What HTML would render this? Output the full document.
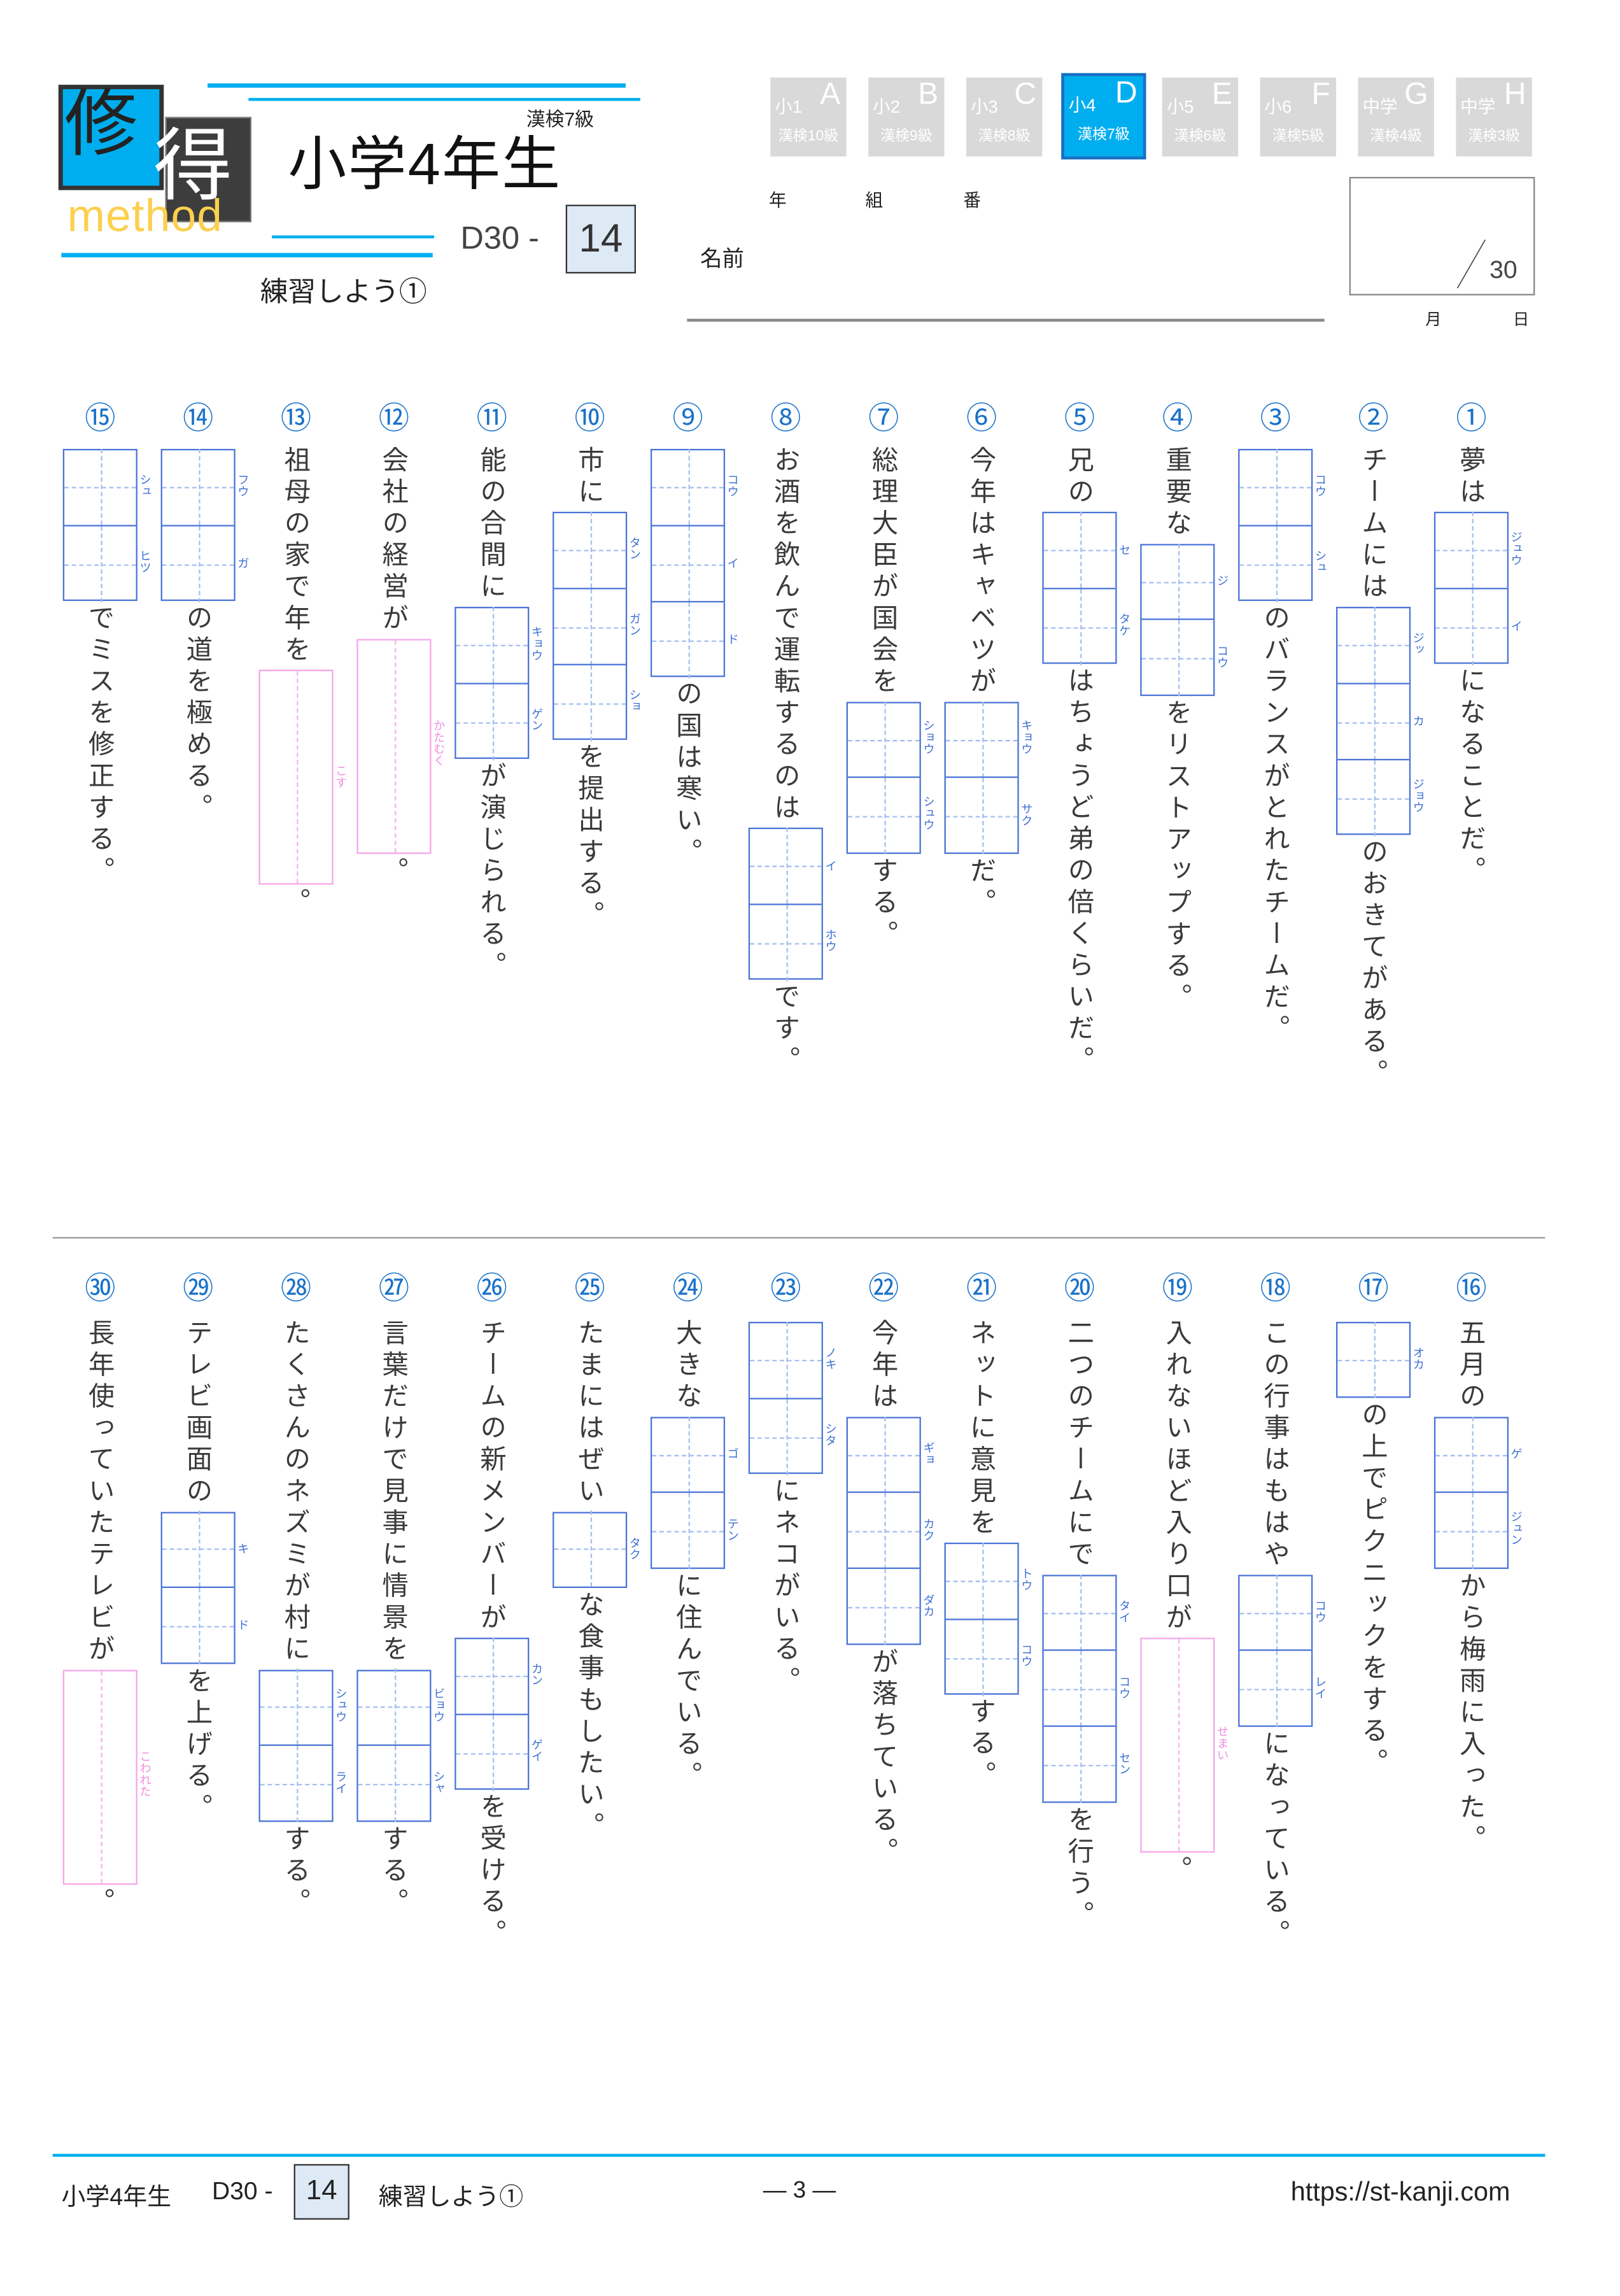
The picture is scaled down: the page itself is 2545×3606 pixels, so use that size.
<!DOCTYPE html>
<html><head><meta charset="utf-8">
<style>
html,body{margin:0;padding:0;background:#fff;}
body{width:2545px;height:3600px;overflow:hidden;position:relative;font-family:"Liberation Sans","Noto Sans CJK JP",sans-serif;}
#p{position:absolute;left:0;top:0;width:1110px;height:1570px;transform:scale(2.2965);transform-origin:0 0;color:#333;}
.a{position:absolute;}
.vt{position:absolute;writing-mode:vertical-rl;font-size:18px;letter-spacing:3.6px;line-height:22px;width:22px;color:#3a3a3a;white-space:nowrap;}
.num{position:absolute;font-size:21px;color:#1a72c9;width:30px;text-align:center;line-height:22px;font-family:"Noto Sans CJK JP",sans-serif;}
.box{position:absolute;border:1.3px solid #4a74d6;box-sizing:border-box;width:51px;}
.cell{position:absolute;left:0;right:0;height:52px;}
.dv{position:absolute;left:50%;top:0;bottom:0;border-left:1px dashed #a6bfee;}
.dh{position:absolute;left:0;right:0;top:50%;border-top:1px dashed #a6bfee;}
.fr{position:absolute;writing-mode:vertical-rl;font-size:8px;line-height:9px;color:#3d6fd3;white-space:nowrap;}
.pink{border-color:#f6a6ea;}
.pink .dv{border-left-color:#f6b3ee;}
.fp{color:#f08de0;}
.tab{position:absolute;width:52px;height:54px;background:#d9d9d9;color:#fff;}
.tab .s{position:absolute;left:3px;top:11px;font-size:12px;}
.tab .L{position:absolute;right:4px;top:0px;font-size:21px;}
.tab .k{position:absolute;left:0;right:0;top:31px;font-size:10px;text-align:center;}
</style></head><body>
<div id="p">
<div class="a" style="left:113px;top:80px;width:59px;height:72px;background:#3d3d3d;border:1.5px solid #777;box-sizing:border-box;"></div>
<div class="a" style="left:40px;top:58px;width:72px;height:72px;background:#00aeef;border:3px solid #333;box-sizing:border-box;"></div>
<div class="a" style="left:44px;top:55px;font-size:50px;line-height:60px;color:#222;">修</div>
<div class="a" style="left:105px;top:82px;font-size:54px;line-height:64px;color:#fff;">得</div>
<div class="a" style="left:46px;top:130px;font-size:31px;line-height:36px;color:#fbd04e;letter-spacing:0.5px;">method</div>
<div class="a" style="left:142px;top:57px;width:286px;height:3px;background:#00aeef;"></div>
<div class="a" style="left:170px;top:67px;width:268px;height:2px;background:#00aeef;"></div>
<div class="a" style="left:186px;top:161px;width:111px;height:2px;background:#00aeef;"></div>
<div class="a" style="left:42px;top:173px;width:254px;height:3px;background:#00aeef;"></div>
<div class="a" style="left:360px;top:71px;font-size:13px;color:#222;">漢検7級</div>
<div class="a" style="left:197px;top:88px;font-size:40px;line-height:50px;color:#111;letter-spacing:1px;">小学4年生</div>
<div class="a" style="left:315px;top:150px;font-size:22px;line-height:26px;color:#444;">D30 -</div>
<div class="a" style="left:387px;top:140px;width:48px;height:47px;background:#dde9f5;border:1px solid #333;box-sizing:border-box;font-size:27px;line-height:44px;text-align:center;color:#333;">14</div>
<div class="a" style="left:178px;top:189px;font-size:19px;line-height:24px;color:#222;">練習しよう①</div>
<div class="a" style="left:526px;top:128px;font-size:12px;color:#222;">年</div>
<div class="a" style="left:592px;top:128px;font-size:12px;color:#222;">組</div>
<div class="a" style="left:659px;top:128px;font-size:12px;color:#222;">番</div>
<div class="a" style="left:479px;top:166px;font-size:15px;color:#222;">名前</div>
<div class="a" style="left:470px;top:218px;width:436px;height:1.5px;background:#888;"></div>
<div class="a" style="left:923px;top:121px;width:127px;height:81px;border:1px solid #888;box-sizing:border-box;"></div>
<svg class="a" style="left:0;top:0" width="1100" height="260"><line x1="997" y1="197" x2="1016" y2="164" stroke="#555" stroke-width="0.8"/></svg>
<div class="a" style="left:1019px;top:175px;font-size:17px;color:#444;">30</div>
<div class="a" style="left:975px;top:210px;font-size:11px;color:#222;">月</div>
<div class="a" style="left:1035px;top:210px;font-size:11px;color:#222;">日</div>
<div class="a" style="left:36px;top:846px;width:1021px;height:1px;background:#999;"></div>
<div class="a" style="left:36px;top:1473px;width:1021px;height:1.5px;background:#00aeef;"></div>
<div class="a" style="left:42px;top:1489px;font-size:16.5px;color:#222;">小学4年生</div>
<div class="a" style="left:145px;top:1489px;font-size:17px;color:#222;">D30 -</div>
<div class="a" style="left:201px;top:1480px;width:38px;height:38px;background:#dde9f5;border:1px solid #333;box-sizing:border-box;font-size:19px;line-height:36px;text-align:center;color:#222;">14</div>
<div class="a" style="left:259px;top:1489px;font-size:16.5px;color:#222;">練習しよう①</div>
<div class="a" style="left:522px;top:1490px;font-size:16px;color:#222;">— 3 —</div>
<div class="a" style="left:883px;top:1489px;font-size:18px;color:#222;">https://st-kanji.com</div>
</div>
<script>
var P=document.getElementById('p');
function mk(cls,st,html){var d=document.createElement('div');d.className=cls;d.setAttribute('style',st);if(html!=null)d.textContent=html;P.appendChild(d);return d;}
var tabs=[['小1','A','漢検10級'],['小2','B','漢検9級'],['小3','C','漢検8級'],['小4','D','漢検7級'],['小5','E','漢検6級'],['小6','F','漢検5級'],['中学','G','漢検4級'],['中学','H','漢検3級']];
tabs.forEach(function(t,i){
  var x=527+i*67;
  var st='left:'+x+'px;top:53px;';
  if(i==3)st='left:726px;top:50px;width:58px;height:59px;background:#00aeef;border:2px solid #1a6fc4;box-sizing:border-box;';
  var d=mk('tab',st);
  var s=document.createElement('span');s.className='s';s.textContent=t[0];d.appendChild(s);
  var L=document.createElement('span');L.className='L';L.textContent=t[1];d.appendChild(L);
  var k=document.createElement('span');k.className='k';k.textContent=t[2];d.appendChild(k);
});
var nums='①②③④⑤⑥⑦⑧⑨⑩⑪⑫⑬⑭⑮⑯⑰⑱⑲⑳㉑㉒㉓㉔㉕㉖㉗㉘㉙㉚';
var Q=[
['夢は',{r:['ジュウ','イ']},'になることだ。'],
['チームには',{r:['ジッ','カ','ジョウ']},'のおきてがある。'],
[{r:['コウ','シュ']},'のバランスがとれたチームだ。'],
['重要な',{r:['ジ','コウ']},'をリストアップする。'],
['兄の',{r:['セ','タケ']},'はちょうど弟の倍くらいだ。'],
['今年はキャベツが',{r:['キョウ','サク']},'だ。'],
['総理大臣が国会を',{r:['ショウ','シュウ']},'する。'],
['お酒を飲んで運転するのは',{r:['イ','ホウ']},'です。'],
[{r:['コウ','イ','ド']},'の国は寒い。'],
['市に',{r:['タン','ガン','ショ']},'を提出する。'],
['能の合間に',{r:['キョウ','ゲン']},'が演じられる。'],
['会社の経営が',{p:'かたむく'},'。'],
['祖母の家で年を',{p:'こす'},'。'],
[{r:['フウ','ガ']},'の道を極める。'],
[{r:['シュ','ヒツ']},'でミスを修正する。'],
['五月の',{r:['ゲ','ジュン']},'から梅雨に入った。'],
[{r:['オカ']},'の上でピクニックをする。'],
['この行事はもはや',{r:['コウ','レイ']},'になっている。'],
['入れないほど入り口が',{p:'せまい'},'。'],
['二つのチームにで',{r:['タイ','コウ','セン']},'を行う。'],
['ネットに意見を',{r:['トウ','コウ']},'する。'],
['今年は',{r:['ギョ','カク','ダカ']},'が落ちている。'],
[{r:['ノキ','シタ']},'にネコがいる。'],
['大きな',{r:['ゴ','テン']},'に住んでいる。'],
['たまにはぜい',{r:['タク']},'な食事もしたい。'],
['チームの新メンバーが',{r:['カン','ゲイ']},'を受ける。'],
['言葉だけで見事に情景を',{r:['ビョウ','シャ']},'する。'],
['たくさんのネズミが村に',{r:['シュウ','ライ']},'する。'],
['テレビ画面の',{r:['キ','ド']},'を上げる。'],
['長年使っていたテレビが',{p:'こわれた'},'。']
];
var ST=21.6;
Q.forEach(function(q,i){
  var bottom=i>=15;var j=i%15;
  var cx=1006.5-67*j;
  var ny=bottom?869:274;
  mk('num','left:'+(cx-15)+'px;top:'+ny+'px;',Array.from(nums)[i]);
  var y=bottom?902:305;
  q.forEach(function(it,k){
    if(typeof it==='string'){
      var n=Array.from(it).length;
      mk('vt','left:'+(cx-11)+'px;top:'+y+'px;height:'+(n*ST)+'px;',it);
      y+=n*ST;
    } else {
      y+= (k==0)?2:2;
      var h,b;
      if(it.r){
        h=it.r.length*52;
        b=mk('box','left:'+(cx-25.5)+'px;top:'+y+'px;height:'+h+'px;');
        it.r.forEach(function(r,c){
          var cell=document.createElement('div');cell.className='cell';
          cell.setAttribute('style','top:'+(c*52-1.3)+'px;'+(c>0?'border-top:1.3px solid #4a74d6;':''));
          var dv=document.createElement('div');dv.className='dv';cell.appendChild(dv);
          var dh=document.createElement('div');dh.className='dh';cell.appendChild(dh);
          b.appendChild(cell);
          var rl=Array.from(r).length*9;
          mk('fr','left:'+(cx+26.5)+'px;top:'+(y+c*52+26-rl/2)+'px;',r);
        });
      } else {
        h=147;
        b=mk('box pink','left:'+(cx-25.5)+'px;top:'+y+'px;height:'+h+'px;');
        var dv=document.createElement('div');dv.className='dv';b.appendChild(dv);
        var rl=Array.from(it.p).length*9;
        mk('fr fp','left:'+(cx+26.5)+'px;top:'+(y+h/2-rl/2)+'px;',it.p);
      }
      y+=h+2;
    }
  });
});
</script>
</body></html>
